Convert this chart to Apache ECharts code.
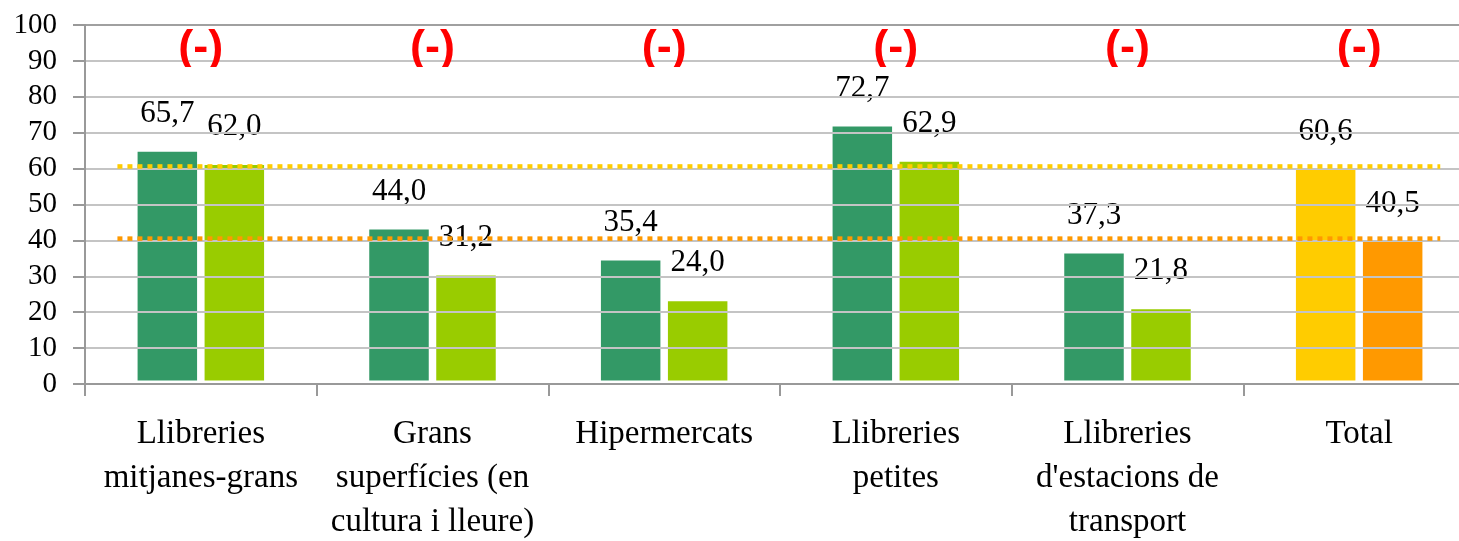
<!DOCTYPE html>
<html>
<head>
<meta charset="utf-8">
<script src="https://cdn.jsdelivr.net/npm/echarts@6/dist/echarts.min.js"></script>
<style>
html,body{margin:0;padding:0;background:#fff;}
#chart{width:1459px;height:541px;}
</style>
</head>
<body>
<div id="chart"></div>
<script>
// ---- data ----
const categories = [
  'Llibreries\nmitjanes-grans',
  'Grans\nsuperfícies (en\ncultura i lleure)',
  'Hipermercats',
  'Llibreries\npetites',
  "Llibreries\nd'estacions de\ntransport",
  'Total'
];
const seriesA = [65.7, 44.0, 35.4, 72.7, 37.3, 60.6];
const seriesB = [62.0, 31.2, 24.0, 62.9, 21.8, 40.5];
const signLabels = ['(-)', '(-)', '(-)', '(-)', '(-)', '(-)'];
const signLevel = 93.3;
const signClipLevel = 88.3;
const yMin = 0, yMax = 100, yInterval = 10;
const refStart = 0.14, refEnd = 5.85;

// ---- styles ----
const colA = '#339966', colB = '#99cc00';
const colTotalA = '#ffcc00', colTotalB = '#ff9900';
const fmt = v => v.toFixed(1).replace('.', ',');

function barData(vals, col, totalCol) {
  return vals.map((v, i) => ({
    value: v,
    itemStyle: { color: i === vals.length - 1 ? totalCol : col }
  }));
}

const chart = echarts.init(document.getElementById('chart'), null, { renderer: 'canvas' });
const gridColors = [];
for (let v = yMin; v <= yMax; v += yInterval) gridColors.push(v === yMax ? '#a0a0a0' : '#c4c4c4');

const barLabel = {
  show: true, position: 'top', distance: 19,
  fontFamily: 'Liberation Serif', fontSize: 31, color: '#000',
  formatter: p => fmt(p.value)
};

chart.setOption({
  animation: false,
  grid: { left: 85, top: 25, width: 1390, height: 359, containLabel: false, outerBoundsMode: 'none' },
  xAxis: [{
    type: 'category', data: categories, z: 3,
    axisLine: { lineStyle: { color: '#999', width: 2 } },
    axisTick: { show: true, length: 12, lineStyle: { color: '#999', width: 2 } },
    axisLabel: {
      interval: 0, margin: 28, color: '#000',
      fontFamily: 'Liberation Serif', fontSize: 33, lineHeight: 44, align: 'center'
    },
    splitLine: { show: false }
  }, {
    type: 'value', min: 0, max: 6, show: false
  }],
  yAxis: {
    type: 'value', min: yMin, max: yMax, interval: yInterval, z: 3,
    axisLine: { show: true, lineStyle: { color: '#999', width: 2 } },
    axisTick: { show: true, length: 12, lineStyle: { color: '#999', width: 2 } },
    axisLabel: { margin: 28, color: '#000', fontFamily: 'Liberation Serif', fontSize: 29 },
    splitLine: { show: true, lineStyle: { color: gridColors, width: 2 } }
  },
  series: [{
    type: 'bar', name: 'A', xAxisIndex: 0,
    data: barData(seriesA, colA, colTotalA),
    barWidth: 66.5, barGap: '0.75%',
    itemStyle: { borderColor: '#fff', borderWidth: 3.5 },
    label: barLabel
  }, {
    type: 'bar', name: 'B', xAxisIndex: 0,
    data: barData(seriesB, colB, colTotalB),
    barWidth: 66.5,
    itemStyle: { borderColor: '#fff', borderWidth: 3.5 },
    label: barLabel
  }, {
    type: 'line', xAxisIndex: 1, z: 5, silent: true, symbol: 'none',
    data: [[refStart, seriesA[seriesA.length - 1]], [refEnd, seriesA[seriesA.length - 1]]],
    lineStyle: { color: colTotalA, width: 4.5, type: [5, 5] }
  }, {
    type: 'line', xAxisIndex: 1, z: 5, silent: true, symbol: 'none',
    data: [[refStart, seriesB[seriesB.length - 1]], [refEnd, seriesB[seriesB.length - 1]]],
    lineStyle: { color: colTotalB, width: 4.5, type: [5, 5] }
  }, {
    type: 'custom', xAxisIndex: 0, z: 6, silent: true,
    data: signLabels.map((s, i) => [i, signLevel]),
    renderItem: function (params, api) {
      const p = api.coord([api.value(0), api.value(1)]);
      const clipY = api.coord([api.value(0), signClipLevel])[1];
      return {
        type: 'text',
        style: {
          x: p[0], y: p[1], text: signLabels[params.dataIndex],
          fill: '#ff0000', font: 'bold 45px "Liberation Sans"',
          align: 'center', verticalAlign: 'middle'
        },
        clipPath: { type: 'rect', shape: { x: p[0] - 60, y: p[1] - 40, width: 120, height: clipY - (p[1] - 40) } }
      };
    }
  }]
});
</script>
</body>
</html>
